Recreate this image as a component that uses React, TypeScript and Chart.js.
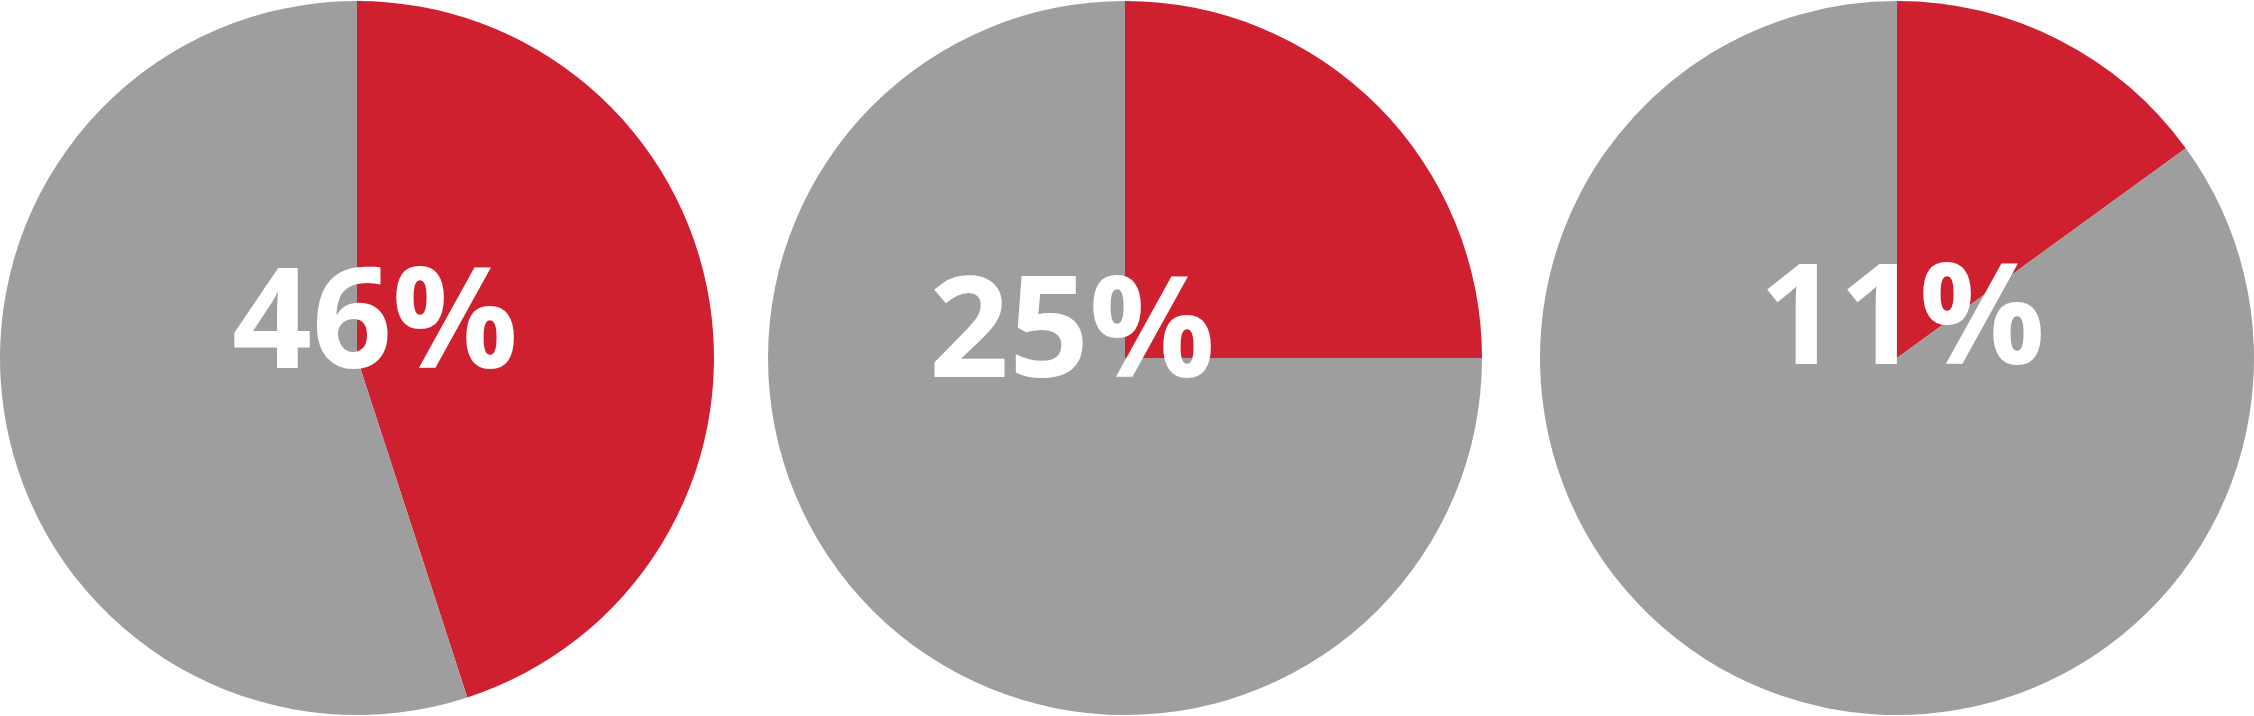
import React, { useEffect, useRef } from "react";
import { Chart, registerables } from "chart.js";

Chart.register(...registerables);

// Data
const categories = ["Share", "Rest"];
const sliceValues = [45, 25, 15];
const labelTexts = ["46%", "25%", "11%"];

// Colours
const RED = "rgb(206,32,46)";
const GRAY = "rgb(158,158,158)";

// Layout (styles/positions, kept apart from data)
const PIE_W = 714;
const PIE_H = 716;
const pieLefts = [0, 768, 1540];
const labelPos = [
  { x: 375, y: 368 },
  { x: 304, y: 377 },
  { x: 362, y: 364 },
];

function Pie({ index }: { index: number }) {
  const ref = useRef<HTMLCanvasElement | null>(null);
  useEffect(() => {
    if (!ref.current) return;
    const v = sliceValues[index];
    const pos = labelPos[index];
    const labelPlugin = {
      id: "centerLabel" + index,
      afterDraw(chart: any) {
        const ctx = chart.ctx;
        ctx.save();
        ctx.fillStyle = "#ffffff";
        ctx.font = "bold 140px 'Open Sans'";
        ctx.textAlign = "center";
        ctx.textBaseline = "alphabetic";
        ctx.fillText(labelTexts[index], pos.x, pos.y);
        ctx.restore();
      },
    };
    const chart = new Chart(ref.current, {
      type: "pie",
      data: {
        labels: categories,
        datasets: [
          {
            data: [v, 100 - v],
            backgroundColor: [RED, GRAY],
            borderWidth: 0,
            hoverOffset: 0,
          },
        ],
      },
      options: {
        responsive: false,
        animation: false,
        devicePixelRatio: 1,
        layout: { padding: 0 },
        events: [],
        plugins: {
          legend: { display: false },
          tooltip: { enabled: false },
          title: { display: false },
        },
      },
      plugins: [labelPlugin],
    });
    return () => chart.destroy();
  }, [index]);
  return (
    <canvas
      ref={ref}
      width={PIE_W}
      height={PIE_H}
      style={{
        position: "absolute",
        left: pieLefts[index],
        top: 0,
        width: PIE_W,
        height: PIE_H,
      }}
    />
  );
}

export default function App() {
  useEffect(() => {
    document.body.style.margin = "0";
    document.body.style.overflow = "hidden";
  }, []);
  return (
    <div
      style={{
        position: "absolute",
        left: 0,
        top: 0,
        width: 2254,
        height: 716,
        background: "#ffffff",
        overflow: "hidden",
      }}
    >
      {sliceValues.map((_, i) => (
        <Pie key={i} index={i} />
      ))}
    </div>
  );
}
